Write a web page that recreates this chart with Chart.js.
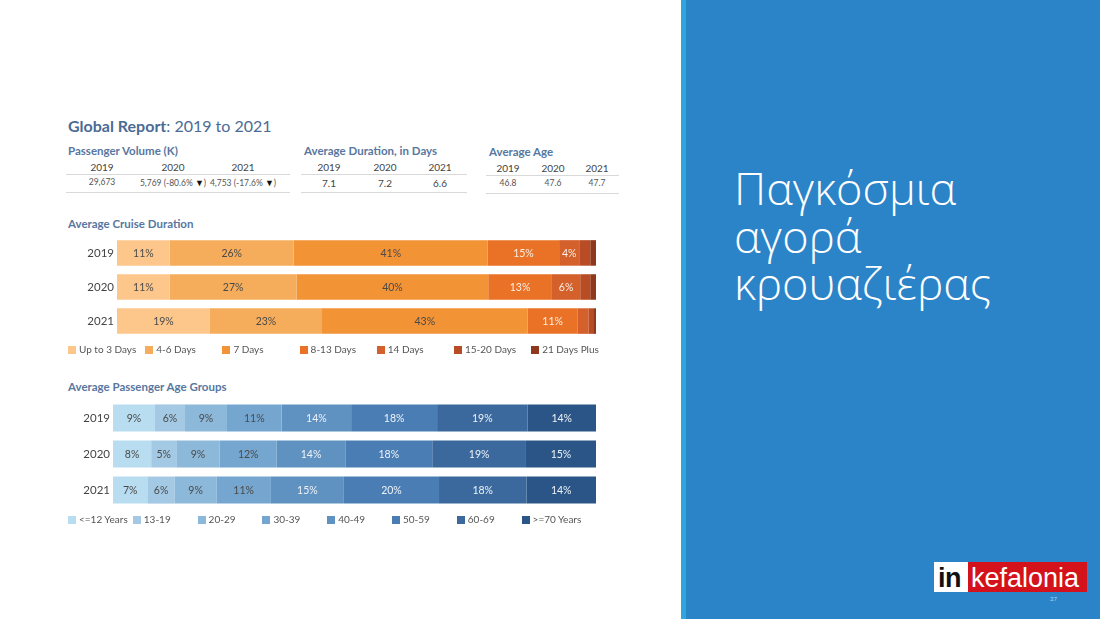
<!DOCTYPE html>
<html>
<head>
<meta charset="utf-8">
<script src="https://cdn.jsdelivr.net/npm/chart.js@4.4.1/dist/chart.umd.min.js"></script>
<style>
  body { margin: 0; width: 1100px; height: 619px; overflow: hidden; background: #fff; position: relative; font-family: Lato, sans-serif; }
  .abs { position: absolute; white-space: nowrap; }
  .h1 { left: 68px; top: 116px; font-size: 16px; color: #4b6b94; }
  .h2 { font-size: 11.5px; font-weight: bold; color: #5877a0; }
  .cell { font-size: 10px; color: #444; text-align: center; transform: translateX(-50%); }
  .val { font-size: 8.5px; color: #555; }
  .val span { color: #111; font-size: 9px; }
  .rule { height: 1px; background: #d9d9d9; }
  .leg { font-size: 10px; color: #555; line-height: 12px; }
  .leg i { display: inline-block; width: 8px; height: 8px; margin-right: 3px; vertical-align: -0.5px; }
  #panel { left: 686px; top: 0; width: 414px; height: 619px; background: #2b83c8; }
  #stripe { left: 681px; top: 0; width: 5px; height: 619px; background: #2fa6e0; }
  .greek { left: 734px; height: 47.5px; overflow: visible; font-family: "Open Sans", sans-serif; font-size: 45px; line-height: 47.5px; font-weight: 300; color: #fff; }
</style>
</head>
<body>

<div class="abs h1"><b>Global Report</b>: 2019 to 2021</div>

<div class="abs h2" style="left:68px;top:144px">Passenger Volume (K)</div>
<div class="abs h2" style="left:304px;top:144px">Average Duration, in Days</div>
<div class="abs h2" style="left:489px;top:145px">Average Age</div>

<div id="tables"></div>

<div class="abs h2" style="left:68px;top:217px">Average Cruise Duration</div>
<canvas id="durationChart" class="abs" style="left:60px;top:226px" width="540" height="122"></canvas>
<div id="durationLegend"></div>

<div class="abs h2" style="left:68px;top:380px">Average Passenger Age Groups</div>
<canvas id="ageChart" class="abs" style="left:60px;top:390px" width="540" height="128"></canvas>
<div id="ageLegend"></div>

<div id="stripe" class="abs"></div>
<div id="panel" class="abs"></div>
<div class="abs greek" style="top:164px">Παγκόσμια</div>
<div class="abs greek" style="top:211.5px">αγορά</div>
<div class="abs greek" style="top:259px">κρουαζιέρας</div>

<div class="abs" style="left:934px;top:562px;width:34px;height:30px;background:#fff"></div>
<div class="abs" style="left:968px;top:562px;width:119px;height:30px;background:#d3121c"></div>
<div class="abs" style="left:938px;top:565px;font:bold 27px/27px 'Liberation Sans',sans-serif;color:#111;letter-spacing:-0.5px">in</div>
<div class="abs" style="left:971px;top:565px;font:27px/27px 'Liberation Sans',sans-serif;color:#fff">kefalonia</div>
<div class="abs" style="left:1050px;top:595px;font-size:6px;color:#b8d4ee">27</div>

<script>
const years = ['2019', '2020', '2021'];

// header tables
const passengerVolume = ['29,673', '5,769 (-80.6% \u25BC)', '4,753 (-17.6% \u25BC)'];
const avgDuration = ['7.1', '7.2', '6.6'];
const avgAge = ['46.8', '47.6', '47.7'];

// Average Cruise Duration (share of passengers, %)
const durationCats = ['Up to 3 Days', '4-6 Days', '7 Days', '8-13 Days', '14 Days', '15-20 Days', '21 Days Plus'];
const upTo3Days = [11.0, 11.0, 19.4];
const days4to6 = [25.9, 26.5, 23.4];
const days7 = [40.5, 40.0, 42.9];
const days8to13 = [14.9, 13.3, 10.5];
const days14 = [4.2, 5.9, 2.2];
const days15to20 = [2.3, 2.1, 1.0];
const days21Plus = [1.2, 1.2, 0.6];

// Average Passenger Age Groups (%)
const ageCats = ['<=12 Years', '13-19', '20-29', '30-39', '40-49', '50-59', '60-69', '>=70 Years'];
const age12 = [8.7, 7.9, 7.1];
const age13to19 = [6.2, 5.2, 5.7];
const age20to29 = [8.7, 9.0, 8.6];
const age30to39 = [11.3, 11.8, 11.3];
const age40to49 = [14.4, 14.2, 15.1];
const age50to59 = [17.8, 18.0, 19.7];
const age60to69 = [18.7, 19.4, 18.1];
const age70Plus = [14.2, 14.5, 14.4];

const durationColors = ['#fdc68a', '#f6ad5b', '#f29336', '#ea7226', '#d4602b', '#b84d25', '#8e391d'];
const durationText = ['#4a4a4a', '#4a4a4a', '#4a4a4a', '#fbeee4', '#fbeee4', '#fff', '#fff'];
const ageColors = ['#b8dcf0', '#a3c9e4', '#8cb8da', '#75a6cf', '#5f91c1', '#4a7db3', '#3b699d', '#2a5586'];
const ageText = ['#4a4a4a', '#4a4a4a', '#4a4a4a', '#4a4a4a', '#eef3f8', '#eef3f8', '#eef3f8', '#eef3f8'];

function addText(parent, cls, left, top, text) {
  const d = document.createElement('div');
  d.className = 'abs ' + cls;
  d.style.left = left + 'px';
  d.style.top = top + 'px';
  // the down triangle is drawn darker, as in the source
  d.innerHTML = text.replace('\u25BC', '<span>\u25BC</span>');
  parent.appendChild(d);
}
function addRule(parent, left, top, width) {
  const d = document.createElement('div');
  d.className = 'abs rule';
  d.style.left = left + 'px';
  d.style.top = top + 'px';
  d.style.width = width + 'px';
  parent.appendChild(d);
}

const tables = document.getElementById('tables');
function table(values, cols, left, width, top, valCls) {
  years.forEach((y, i) => addText(tables, 'cell', cols[i], top, y));
  addRule(tables, left, top + 13, width);
  values.forEach((v, i) => addText(tables, 'cell ' + valCls, cols[i], top + 16, v));
  addRule(tables, left, top + 31, width);
}
table(passengerVolume, [102, 173, 243], 66, 224, 161, 'val');
table(avgDuration, [329, 385, 440], 301, 166, 161, '');
table(avgAge, [508, 553, 597], 486, 133, 162, 'val');

function legend(id, cats, colors, left, step, top) {
  const el = document.getElementById(id);
  cats.forEach((c, i) => {
    const d = document.createElement('div');
    d.className = 'abs leg';
    d.style.left = (left + i * step) + 'px';
    d.style.top = top + 'px';
    d.innerHTML = '<i style="background:' + colors[i] + '"></i>';
    d.appendChild(document.createTextNode(c));
    el.appendChild(d);
  });
}
legend('durationLegend', durationCats, durationColors, 68, 77.2, 343);
legend('ageLegend', ageCats, ageColors, 68, 64.8, 513);

// percent labels inside the segments
const barLabels = {
  id: 'barLabels',
  afterDatasetsDraw(chart) {
    const ctx = chart.ctx;
    ctx.save();
    ctx.font = '10.5px Lato';
    ctx.textAlign = 'center';
    ctx.textBaseline = 'middle';
    chart.data.datasets.forEach((ds, i) => {
      chart.getDatasetMeta(i).data.forEach((bar, j) => {
        if (Math.abs(bar.x - bar.base) < 16) return;
        ctx.fillStyle = ds.labelColor;
        ctx.fillText(Math.round(ds.data[j]) + '%', (bar.x + bar.base) / 2, bar.y + 0.5);
      });
    });
    ctx.restore();
  }
};

function stackedBars(canvasId, cats, series, colors, textColors, axisWidth) {
  new Chart(document.getElementById(canvasId), {
    type: 'bar',
    data: {
      labels: years,
      datasets: cats.map((c, i) => ({
        label: c,
        data: series[i],
        backgroundColor: colors[i],
        labelColor: textColors[i],
        borderWidth: 0,
        barPercentage: 0.75,
        categoryPercentage: 1
      }))
    },
    options: {
      indexAxis: 'y',
      responsive: false,
      animation: false,
      layout: { padding: { right: 4 } },
      plugins: { legend: { display: false }, tooltip: { enabled: false } },
      scales: {
        x: { stacked: true, min: 0, max: 100, display: false },
        y: {
          stacked: true,
          grid: { display: false, drawTicks: false },
          border: { display: false },
          ticks: { color: '#444', padding: 3, font: { family: 'Lato', size: 11.5 } },
          afterFit(scale) { scale.width = axisWidth; }
        }
      }
    },
    plugins: [barLabels]
  });
}

stackedBars('durationChart', durationCats,
  [upTo3Days, days4to6, days7, days8to13, days14, days15to20, days21Plus],
  durationColors, durationText, 57);
stackedBars('ageChart', ageCats,
  [age12, age13to19, age20to29, age30to39, age40to49, age50to59, age60to69, age70Plus],
  ageColors, ageText, 53);
</script>
</body>
</html>
